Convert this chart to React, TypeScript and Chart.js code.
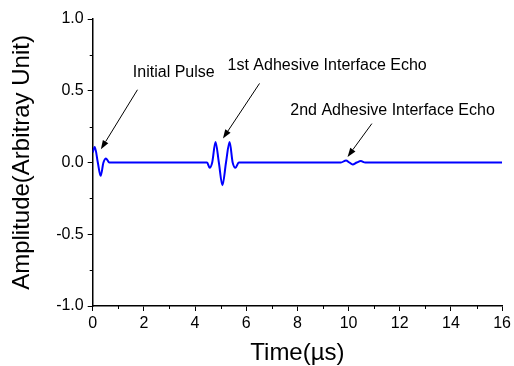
import React, { useEffect, useRef } from "react";
import { Chart, registerables } from "chart.js";

Chart.register(...registerables);

// Time axis (µs) and amplitude samples
const timeUs = [
  0, 0.08, 0.2, 0.31, 0.42, 0.52, 0.65, 2, 4,
  4.47, 4.57, 4.67, 4.8, 4.93, 5.07, 5.21, 5.35, 5.47, 5.58, 5.71,
  8, 9.7, 9.9, 10.03, 10.16, 10.32, 10.48, 10.65, 13, 16,
];
const amplitude = [
  0.07, 0.108, 0, -0.093, 0, 0.028, 0, 0, 0,
  0, -0.037, 0, 0.143, 0, -0.158, 0, 0.143, 0, -0.037, 0,
  0, 0, 0.014, 0, -0.014, 0, 0.01, 0, 0, 0,
];

const xTicks = [0, 2, 4, 6, 8, 10, 12, 14, 16];
const xMinorTicks = [1, 3, 5, 7, 9, 11, 13, 15];
const yTicks = [-1.0, -0.5, 0.0, 0.5, 1.0];
const yMinorTicks = [-0.75, -0.25, 0.25, 0.75];

const xTitle = "Time(\u00b5s)";
const yTitle = "Amplitude(Arbitray Unit)";

// Annotation labels and arrows, in data coordinates
const annotationLabels = ["Initial Pulse", "1st Adhesive Interface Echo", "2nd Adhesive Interface Echo"];
const labelX = [1.57, 5.27, 7.72];
const labelY = [0.627, 0.676, 0.363];
const arrowFromX = [1.75, 6.52, 10.91];
const arrowFromY = [0.507, 0.551, 0.271];
const arrowToX = [0.32, 5.09, 9.96];
const arrowToY = [0.092, 0.167, 0.039];

const FONT = "'Liberation Sans', Arial, Helvetica, sans-serif";

const overlayPlugin = {
  id: "overlay",
  afterDraw(chart: any) {
    const { ctx, scales } = chart;
    const xs = scales.x;
    const ys = scales.y;
    const area = chart.chartArea;
    ctx.save();
    // minor ticks
    ctx.strokeStyle = "#000";
    ctx.lineWidth = 1;
    ctx.beginPath();
    xMinorTicks.forEach((v) => {
      const px = Math.round(xs.getPixelForValue(v)) + 0.5;
      ctx.moveTo(px, area.bottom);
      ctx.lineTo(px, area.bottom + 3);
    });
    yMinorTicks.forEach((v) => {
      const py = Math.round(ys.getPixelForValue(v)) + 0.5;
      ctx.moveTo(area.left, py);
      ctx.lineTo(area.left - 3, py);
    });
    ctx.stroke();

    // annotation text
    ctx.fillStyle = "#000";
    ctx.font = `16px ${FONT}`;
    ctx.textAlign = "left";
    ctx.textBaseline = "middle";
    annotationLabels.forEach((t, i) => {
      ctx.fillText(t, xs.getPixelForValue(labelX[i]), ys.getPixelForValue(labelY[i]));
    });

    // arrows
    annotationLabels.forEach((_, i) => {
      const x1 = xs.getPixelForValue(arrowFromX[i]);
      const y1 = ys.getPixelForValue(arrowFromY[i]);
      const x2 = xs.getPixelForValue(arrowToX[i]);
      const y2 = ys.getPixelForValue(arrowToY[i]);
      const ang = Math.atan2(y2 - y1, x2 - x1);
      const headLen = 9;
      const headW = 3.2;
      const bx = x2 - headLen * Math.cos(ang);
      const by = y2 - headLen * Math.sin(ang);
      ctx.beginPath();
      ctx.moveTo(x1, y1);
      ctx.lineTo(bx, by);
      ctx.lineWidth = 1;
      ctx.strokeStyle = "#000";
      ctx.stroke();
      ctx.beginPath();
      ctx.moveTo(x2, y2);
      ctx.lineTo(bx + headW * Math.sin(ang), by - headW * Math.cos(ang));
      ctx.lineTo(bx - headW * Math.sin(ang), by + headW * Math.cos(ang));
      ctx.closePath();
      ctx.fill();
    });
    ctx.restore();
  },
};

export default function App() {
  const ref = useRef<HTMLCanvasElement | null>(null);

  useEffect(() => {
    if (!ref.current) return;
    const points = timeUs.map((t, i) => ({ x: t, y: amplitude[i] }));
    const chart = new Chart(ref.current, {
      type: "line",
      data: {
        datasets: [
          {
            data: points,
            borderColor: "#0000ff",
            borderWidth: 2,
            pointRadius: 0,
            cubicInterpolationMode: "monotone",
            fill: false,
          },
        ],
      },
      options: {
        responsive: false,
        animation: false,
        devicePixelRatio: 1,
        layout: { padding: { left: 0, top: 19, right: 10.7, bottom: 0 } },
        plugins: { legend: { display: false }, tooltip: { enabled: false } },
        scales: {
          x: {
            type: "linear",
            min: 0,
            max: 16,
            afterBuildTicks: (s: any) => {
              s.ticks = xTicks.map((v) => ({ value: v }));
            },
            afterFit: (s: any) => {
              s.height = 60;
            },
            ticks: {
              color: "#000",
              font: { family: FONT, size: 16 },
              padding: 3,
              maxRotation: 0,
              callback: (v: any) => String(v),
            },
            grid: {
              display: true,
              drawOnChartArea: false,
              drawTicks: true,
              tickLength: 5,
              tickColor: "#000",
              tickWidth: 1,
            },
            border: { display: true, color: "#000", width: 1.5 },
            title: {
              display: true,
              text: xTitle,
              color: "#000",
              font: { family: FONT, size: 24, lineHeight: 1 },
              padding: { top: 0, bottom: 1 },
            },
          },
          y: {
            type: "linear",
            min: -1,
            max: 1,
            afterBuildTicks: (s: any) => {
              s.ticks = yTicks.map((v) => ({ value: v }));
            },
            afterFit: (s: any) => {
              s.width = 92.7;
            },
            ticks: {
              color: "#000",
              font: { family: FONT, size: 16 },
              padding: 4,
              callback: (v: any) => Number(v).toFixed(1),
            },
            grid: {
              display: true,
              drawOnChartArea: false,
              drawTicks: true,
              tickLength: 5,
              tickColor: "#000",
              tickWidth: 1,
            },
            border: { display: true, color: "#000", width: 1.5 },
            title: {
              display: true,
              text: yTitle,
              color: "#000",
              font: { family: FONT, size: 24, lineHeight: 1 },
              padding: { top: 10, bottom: 0 },
            },
          },
        },
      },
      plugins: [overlayPlugin],
    } as any);
    return () => chart.destroy();
  }, []);

  return (
    <div style={{ position: "fixed", left: 0, top: 0, width: 514, height: 366, background: "#fff" }}>
      <canvas ref={ref} width={514} height={366} style={{ width: 514, height: 366, display: "block" }} />
    </div>
  );
}
